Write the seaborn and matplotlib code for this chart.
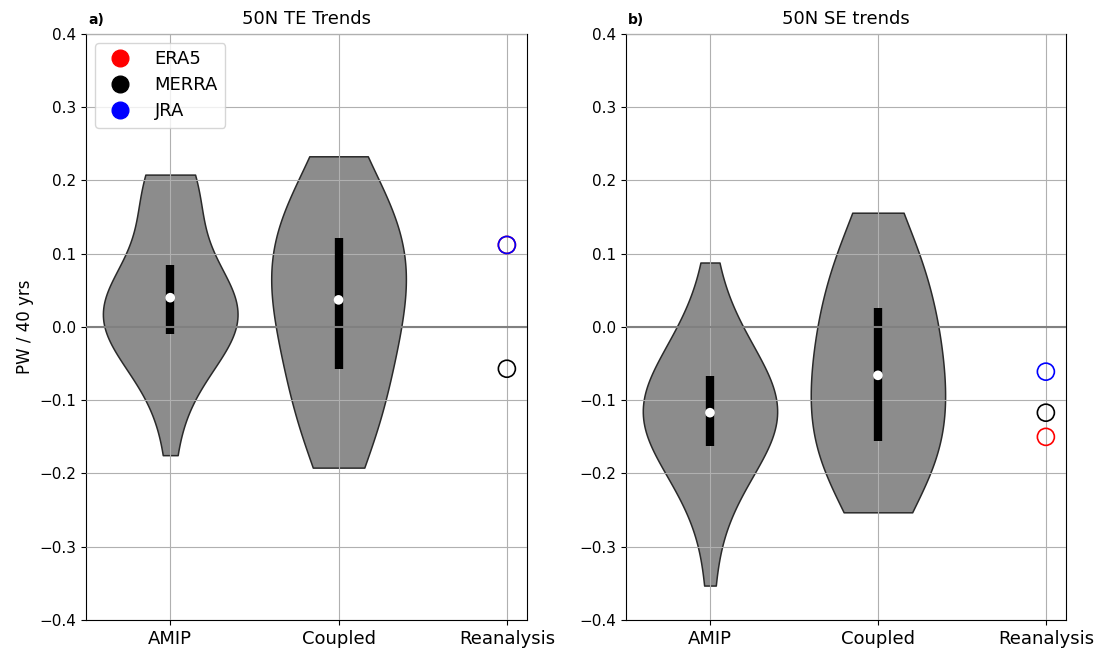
import numpy as np
import pandas as pd
import matplotlib
matplotlib.use("Agg")
import matplotlib.pyplot as plt
from matplotlib.lines import Line2D
import seaborn as sns

# ---------------- data ----------------
categories = ["AMIP", "Coupled", "Reanalysis"]

te_amip = [-0.175, -0.1, -0.07, -0.05, -0.038, -0.028, -0.02, -0.014, -0.010,
           -0.005, 0.0, 0.006, 0.012, 0.018, 0.024, 0.03, 0.040, 0.041, 0.042,
           0.043, 0.044, 0.046, 0.048, 0.05, 0.085, 0.14, 0.16, 0.172, 0.182,
           0.19, 0.197, 0.203, 0.208]
te_coupled = [-0.192, -0.17, -0.155, -0.14, -0.125, -0.11, -0.095, -0.075, -0.058,
              -0.045, -0.03, -0.018, -0.005, 0.008, 0.018, 0.028, 0.037, 0.05,
              0.062, 0.072, 0.082, 0.092, 0.1, 0.11, 0.122, 0.13, 0.14, 0.15,
              0.16, 0.175, 0.19, 0.21, 0.233]
se_amip = [-0.353, -0.265, -0.24, -0.222, -0.207, -0.193, -0.182, -0.172, -0.162,
           -0.155, -0.148, -0.142, -0.137, -0.132, -0.127, -0.122, -0.117,
           -0.112, -0.107, -0.1, -0.093, -0.085, -0.078, -0.072, -0.067,
           -0.055, -0.045, -0.035, -0.025, -0.012, 0.005, 0.03, 0.088]
se_coupled = [-0.253, -0.24, -0.225, -0.21, -0.198, -0.186, -0.175, -0.165, -0.155,
              -0.145, -0.135, -0.125, -0.115, -0.105, -0.095, -0.08, -0.066,
              -0.055, -0.045, -0.035, -0.025, -0.012, 0.0, 0.013, 0.026, 0.04,
              0.055, 0.07, 0.085, 0.1, 0.112, 0.128, 0.156]

reanalyses = ["ERA5", "MERRA", "JRA"]
reanalysis_colors = ["red", "black", "blue"]
te_reanalysis = [0.112, -0.057, 0.112]
se_reanalysis = [-0.150, -0.117, -0.061]

titles = ["50N TE Trends", "50N SE trends"]
panel_labels = ["a)", "b)"]
yticks = [-0.4, -0.3, -0.2, -0.1, 0.0, 0.1, 0.2, 0.3, 0.4]
ylabel = "PW / 40 yrs"

# ---------------- figure ----------------
fig = plt.figure(figsize=(10.99, 6.52), dpi=100)
ax_a = fig.add_axes([0.0783, 0.0491, 0.4013, 0.8988])
ax_b = fig.add_axes([0.5696, 0.0491, 0.4004, 0.8988])

panels = [
    (ax_a, te_amip, te_coupled, te_reanalysis),
    (ax_b, se_amip, se_coupled, se_reanalysis),
]

for i, (ax, amip, coupled, rean) in enumerate(panels):
    df = pd.DataFrame({
        "model": ["AMIP"] * len(amip) + ["Coupled"] * len(coupled),
        "trend": list(amip) + list(coupled),
    })
    sns.violinplot(data=df, x="model", y="trend", order=categories, cut=0,
                   density_norm="width", width=0.8, inner=None, bw_adjust=1.35,
                   color="#8c8c8c", saturation=1, linecolor="#2a2a2a",
                   linewidth=1.1, ax=ax)
    # inner IQR bar and median dot
    for name, vals in (("AMIP", amip), ("Coupled", coupled)):
        pos = categories.index(name)
        q1, med, q3 = np.percentile(vals, [25, 50, 75])
        ax.vlines(pos, q1, q3, color="black", lw=6, zorder=2.6)
        ax.scatter([pos], [med], s=48, color="white", zorder=4,
                   edgecolors="none")
    # reanalysis hollow circles
    rpos = categories.index("Reanalysis")
    for rname, rc, rv in zip(reanalyses, reanalysis_colors, rean):
        sns.scatterplot(x=[rpos], y=[rv], s=150, facecolor="none",
                        edgecolor=rc, color=rc, linewidth=1.2, zorder=5,
                        ax=ax, legend=False)
    ax.axhline(0, color="gray", lw=1.5, zorder=2.7)
    ax.set_axisbelow(False)
    ax.grid(True, color="#b0b0b0", lw=0.8)
    ax.set_xlim(-0.5, 2.12)
    ax.set_ylim(-0.4, 0.4)
    ax.set_yticks(yticks)
    ax.tick_params(axis="y", labelsize=11)
    ax.set_xticks(range(len(categories)))
    ax.set_xticklabels(categories, fontsize=13)
    ax.set_xlabel("")
    ax.set_ylabel("")
    ax.set_title(titles[i], fontsize=13, pad=7)
    ax.text(0.005, 1.012, panel_labels[i], transform=ax.transAxes,
            fontsize=10, fontweight="bold", ha="left", va="bottom")
    for s in ax.spines.values():
        s.set_visible(True)
        s.set_color("black")

ax_a.set_ylabel(ylabel, fontsize=12)

handles = [Line2D([0], [0], marker="o", color="w", markerfacecolor=c,
                  markeredgecolor=c, markersize=12, label=n)
           for n, c in zip(reanalyses, reanalysis_colors)]
ax_a.legend(handles=handles, loc="upper left", fontsize=13,
            handletextpad=0.9, labelspacing=0.45, borderaxespad=0.5)

fig.savefig("out.png", dpi=100)
